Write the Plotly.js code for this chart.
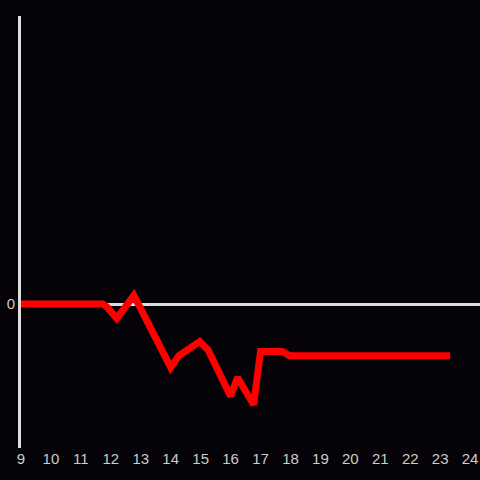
<!DOCTYPE html>
<html>
<head>
<meta charset="utf-8">
<script src="https://cdn.plot.ly/plotly-3.0.1.min.js"></script>
<style>html,body{margin:0;padding:0;background:#050307;}#chart{width:480px;height:480px;}</style>
</head>
<body>
<div id="chart"></div>
<script>
const hours = [9.0, 11.73, 11.87, 12.2, 12.77, 14.0, 14.27, 14.97, 15.25, 16.0, 16.23, 16.77, 17.0, 17.73, 17.97, 23.33];
const values = [0, 0, -0.2, -1.0, 0.6, -4.4, -3.6, -2.6, -3.2, -6.4, -5.1, -7.0, -3.3, -3.3, -3.6, -3.6];
const xTicks = [9,10,11,12,13,14,15,16,17,18,19,20,21,22,23,24];
const yTicks = [0];

Plotly.newPlot('chart', [{
  x: hours, y: values, type: 'scatter', mode: 'lines',
  line: {color: '#ff0000', width: 7},
  hoverinfo: 'skip'
}], {
  width: 480, height: 480,
  margin: {l: 21, r: 0, t: 16, b: 32},
  paper_bgcolor: '#050307', plot_bgcolor: '#050307',
  showlegend: false,
  font: {family: 'Liberation Sans, Arial, sans-serif', size: 15, color: '#cccccc'},
  xaxis: {range: [9, 24.33], tickvals: xTicks, ticktext: xTicks.map(String), showgrid: false, zeroline: false, showline: false, ticks: ''},
  yaxis: {range: [-10, 20], tickvals: yTicks, ticktext: ['0'], showgrid: false, zeroline: true, zerolinecolor: '#dddddd', zerolinewidth: 3, showline: true, linecolor: '#dddddd', linewidth: 3, ticks: '', ticklabelstandoff: 0}
}, {displayModeBar: false, staticPlot: true});
</script>
</body>
</html>
